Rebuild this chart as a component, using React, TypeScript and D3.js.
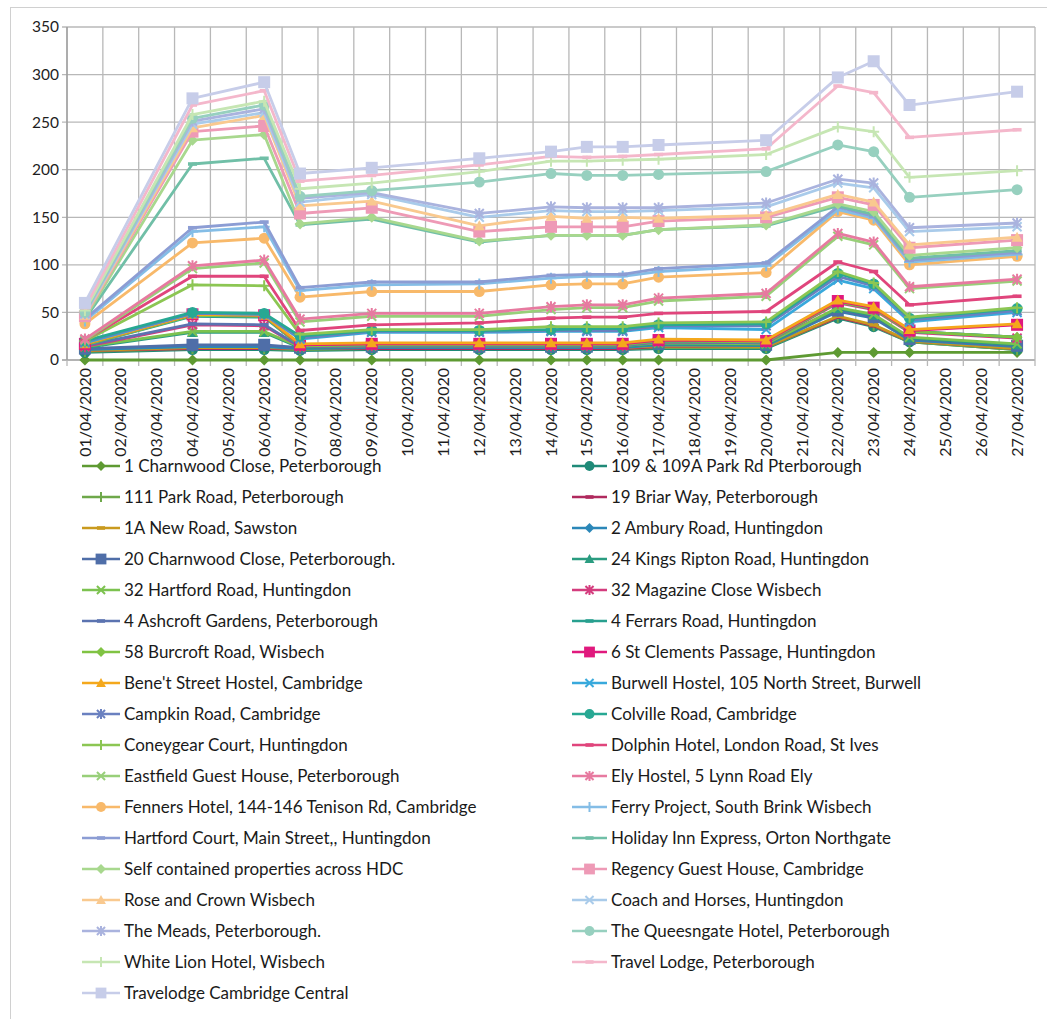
import React from "react";
import * as d3 from "d3";

const categories = [
  "01/04/2020","02/04/2020","03/04/2020","04/04/2020","05/04/2020","06/04/2020","07/04/2020",
  "08/04/2020","09/04/2020","10/04/2020","11/04/2020","12/04/2020","13/04/2020","14/04/2020",
  "15/04/2020","16/04/2020","17/04/2020","18/04/2020","19/04/2020","20/04/2020","21/04/2020",
  "22/04/2020","23/04/2020","24/04/2020","25/04/2020","26/04/2020","27/04/2020",
];
const pointDates = [
  "01/04/2020","04/04/2020","06/04/2020","07/04/2020","09/04/2020","12/04/2020","14/04/2020",
  "15/04/2020","16/04/2020","17/04/2020","20/04/2020","22/04/2020","23/04/2020","24/04/2020","27/04/2020",
];
const yTicks = [0, 50, 100, 150, 200, 250, 300, 350];

const charnwood1 = [0,0,0,0,0,0,0,0,0,0,0,8,8,8,8];
const parkRd109 = [8,11,11,10,11,11,11,11,11,12,12,36,27,11,3];
const parkRoad111 = [1,1,1,1,1,1,1,1,1,1,1,1,1,0,0];
const briarWay19 = [1,0,0,1,0,0,0,0,0,1,1,0,0,1,1];
const newRoad1A = [0,1,1,0,1,1,1,1,1,1,0,1,1,0,0];
const amburyRoad2 = [1,1,1,0,0,0,0,0,0,1,1,5,7,1,2];
const charnwood20 = [1,2,2,1,1,1,1,1,1,1,1,1,1,1,1];
const kingsRipton24 = [1,13,13,0,0,0,0,0,0,0,0,2,2,1,1];
const hartfordRoad32 = [1,1,1,1,1,1,1,1,1,1,1,1,1,1,1];
const magazineClose32 = [0,7,6,0,0,0,0,0,0,1,1,5,5,5,6];
const ashcroft4 = [1,1,1,0,0,0,0,0,0,0,0,1,1,1,1];
const ferrars4 = [1,8,8,1,1,1,1,1,1,1,1,0,0,0,0];
const burcroft58 = [0,1,1,0,0,0,0,0,0,0,0,0,0,0,0];
const stClements6 = [1,1,1,1,1,1,1,1,1,1,1,1,1,1,13];
const benetStreet = [0,0,0,1,1,1,1,1,1,1,1,1,1,1,1];
const burwellHostel = [1,1,1,5,11,11,12,12,12,12,11,21,19,8,12];
const campkinRoad = [1,0,0,1,1,1,1,1,1,2,4,4,3,2,2];
const colvilleRoad = [1,1,1,2,1,1,1,2,2,1,2,3,2,2,2];
const coneygear = [0,29,29,2,1,1,3,2,2,2,2,2,1,1,1];
const dolphinHotel = [1,9,10,4,5,7,9,10,10,10,11,10,12,13,12];
const eastfield = [0,8,14,9,9,7,9,10,10,13,16,27,28,17,16];
const elyHostel = [1,3,3,3,3,3,3,3,3,3,3,3,3,2,2];
const fenners = [16,24,23,23,23,23,23,22,22,22,22,23,23,23,24];
const ferryProject = [3,12,12,7,7,8,7,8,8,6,7,2,2,3,2];
const hartfordCourt = [2,4,5,3,3,2,3,2,2,3,3,3,2,2,2];
const holidayInn = [0,67,67,66,66,42,42,41,41,41,39,1,2,2,2];
const selfContained = [1,25,25,1,2,1,0,0,0,0,1,2,3,3,3];
const regency = [2,9,9,11,10,10,9,9,9,9,8,7,7,8,8];
const roseCrown = [1,4,11,8,7,6,11,9,10,3,2,3,3,3,3];
const coachHorses = [1,4,3,4,7,9,6,7,6,8,9,12,15,14,11];
const theMeads = [1,3,4,4,2,4,4,4,4,3,4,4,5,4,4];
const queensgate = [1,3,4,2,2,33,35,34,34,35,33,36,33,32,35];
const whiteLion = [2,4,4,8,8,11,13,15,16,16,18,19,21,21,20];
const travelLodge = [3,10,11,8,8,7,5,4,4,5,6,43,41,42,43];
const travelodgeCam = [5,7,9,8,8,7,5,11,10,10,9,9,33,34,40];

const seriesNames = [
  "1 Charnwood Close, Peterborough","109 & 109A Park Rd Pterborough","111 Park Road, Peterborough",
  "19 Briar Way, Peterborough","1A New Road, Sawston","2 Ambury Road, Huntingdon",
  "20 Charnwood Close, Peterborough.","24 Kings Ripton Road, Huntingdon","32 Hartford Road, Huntingdon",
  "32 Magazine Close Wisbech","4 Ashcroft Gardens, Peterborough","4 Ferrars Road, Huntingdon",
  "58 Burcroft Road, Wisbech","6 St Clements Passage, Huntingdon","Bene't Street Hostel, Cambridge",
  "Burwell Hostel, 105 North Street, Burwell","Campkin Road, Cambridge","Colville Road, Cambridge",
  "Coneygear Court, Huntingdon","Dolphin Hotel, London Road, St Ives","Eastfield Guest House, Peterborough",
  "Ely Hostel, 5 Lynn Road Ely","Fenners Hotel, 144-146 Tenison Rd, Cambridge","Ferry Project, South Brink Wisbech",
  "Hartford Court, Main Street,, Huntingdon","Holiday Inn Express, Orton Northgate","Self contained properties across HDC",
  "Regency Guest House, Cambridge","Rose and Crown Wisbech","Coach and Horses, Huntingdon",
  "The Meads, Peterborough.","The Queesngate Hotel, Peterborough","White Lion Hotel, Wisbech",
  "Travel Lodge, Peterborough","Travelodge Cambridge Central",
];
const seriesValues = [
  charnwood1, parkRd109, parkRoad111, briarWay19, newRoad1A, amburyRoad2, charnwood20, kingsRipton24,
  hartfordRoad32, magazineClose32, ashcroft4, ferrars4, burcroft58, stClements6, benetStreet, burwellHostel,
  campkinRoad, colvilleRoad, coneygear, dolphinHotel, eastfield, elyHostel, fenners, ferryProject,
  hartfordCourt, holidayInn, selfContained, regency, roseCrown, coachHorses, theMeads, queensgate,
  whiteLion, travelLodge, travelodgeCam,
];
const seriesColors = [
  "#5e9a32","#1f8a78","#6ea84a","#b02a5e","#c99a1e","#2b87b8","#4f6ea8","#2a9c80","#7cc24f",
  "#d43c7e","#5b73b0","#28a08f","#80c343","#e0197d","#f4a81c","#38a9dc","#6a80c0","#27a893",
  "#8cc653","#e0457c","#98cf79","#e77aa0","#f8b96a","#84bde6","#8c9dd4","#70bfa7","#a8d88e",
  "#ee9ab6","#f9c98f","#a9cbea","#aab3de","#97d0bf","#c6e6b3","#f4b7cb","#c7cde9",
];
const seriesMarkers = [
  "diamond","circle","plus","dash","dash","diamond","square","triangle","x",
  "star","dash","dash","diamond","square","triangle","x","star","circle",
  "plus","dash","x","star","circle","plus","dash","dash","diamond",
  "square","triangle","x","star","circle","plus","dash","square",
];

const FONT = "Lato, 'Open Sans', sans-serif";

function Marker({ type, x, y, color, s = 1 }: { type: string; x: number; y: number; color: string; s?: number }) {
  switch (type) {
    case "diamond":
      return <path d={`M${x},${y - 5.5 * s}L${x + 5.5 * s},${y}L${x},${y + 5.5 * s}L${x - 5.5 * s},${y}Z`} fill={color} />;
    case "circle":
      return <circle cx={x} cy={y} r={5.5 * s} fill={color} />;
    case "square":
      return <rect x={x - 6 * s} y={y - 6 * s} width={12 * s} height={12 * s} fill={color} />;
    case "triangle":
      return <path d={`M${x},${y - 5.5 * s}L${x + 5.5 * s},${y + 4.5 * s}L${x - 5.5 * s},${y + 4.5 * s}Z`} fill={color} />;
    case "x":
      return (
        <path
          d={`M${x - 4.5 * s},${y - 4.5 * s}L${x + 4.5 * s},${y + 4.5 * s}M${x - 4.5 * s},${y + 4.5 * s}L${x + 4.5 * s},${y - 4.5 * s}`}
          stroke={color}
          strokeWidth={2}
        />
      );
    case "star":
      return (
        <path
          d={`M${x - 4.5 * s},${y - 4.5 * s}L${x + 4.5 * s},${y + 4.5 * s}M${x - 4.5 * s},${y + 4.5 * s}L${x + 4.5 * s},${y - 4.5 * s}M${x},${y - 5.5 * s}L${x},${y + 5.5 * s}`}
          stroke={color}
          strokeWidth={2}
        />
      );
    case "plus":
      return (
        <path d={`M${x - 5.5 * s},${y}L${x + 5.5 * s},${y}M${x},${y - 5.5 * s}L${x},${y + 5.5 * s}`} stroke={color} strokeWidth={2} />
      );
    case "dash":
      return <rect x={x - 4.5 * s} y={y - 1.8} width={9 * s} height={3.6} fill={color} />;
    default:
      return null;
  }
}

export default function App() {
  const W = 1047;
  const H = 1019;
  const left = 67;
  const right = 1035;
  const top = 27;
  const bottom = 360;

  const x = d3.scaleBand<string>().domain(categories).range([left, right]).paddingInner(0).paddingOuter(0);
  const y = d3.scaleLinear().domain([0, 350]).range([bottom, top]);

  const keys = seriesNames.map((_, i) => `s${i}`);
  const rows = pointDates.map((d, j) => {
    const r: Record<string, any> = { date: d };
    seriesValues.forEach((vals, i) => (r[`s${i}`] = vals[j]));
    return r;
  });
  const stacked = d3.stack<any>().keys(keys)(rows);

  const cx = (d: string) => (x(d) as number) + x.bandwidth() / 2;
  const line = d3
    .line<any>()
    .x((d) => cx(d.data.date))
    .y((d) => y(d[1]));

  const bounds = d3.range(categories.length + 1).map((i) => left + i * x.bandwidth());

  const legendRows = Math.ceil(seriesNames.length / 2);
  const legendY = d3.scaleLinear().domain([0, legendRows - 1]).range([466, 993]);

  return (
    <svg width={W} height={H} style={{ position: "absolute", left: 0, top: 0, background: "#fff" }} fontFamily={FONT}>
      <rect x={10.5} y={7.5} width={1100} height={1100} fill="#fff" stroke="#d0d0d0" strokeWidth={1} />
      {yTicks.map((t) => (
        <line key={`h${t}`} x1={left - 5} x2={right} y1={y(t)} y2={y(t)} stroke={t === 0 ? "#9a9a9a" : "#b8b8b8"} strokeWidth={1.3} />
      ))}
      {bounds.map((bx, i) => (
        <line key={`v${i}`} x1={bx} x2={bx} y1={top} y2={bottom + 6} stroke="#b8b8b8" strokeWidth={1.3} />
      ))}
      <line x1={left} x2={left} y1={top} y2={bottom} stroke="#9a9a9a" strokeWidth={1.3} />
      {yTicks.map((t) => (
        <text key={`yl${t}`} x={left - 8} y={y(t)} dy="0.35em" textAnchor="end" fontSize={15.5} fill="#1e1e1e">
          {t}
        </text>
      ))}
      {categories.map((c) => (
        <text
          key={`xl${c}`}
          transform={`translate(${cx(c)},${bottom + 8}) rotate(-90)`}
          dy="0.35em"
          textAnchor="end"
          fontSize={16}
          fill="#1e1e1e"
        >
          {c}
        </text>
      ))}
      {stacked.map((s, i) => (
        <g key={`s${i}`}>
          <path d={line(s as any) || ""} fill="none" stroke={seriesColors[i]} strokeWidth={2.8} strokeLinejoin="round" />
          {s.map((d: any, j: number) => (
            <Marker key={j} type={seriesMarkers[i]} x={cx(d.data.date)} y={y(d[1])} color={seriesColors[i]} />
          ))}
        </g>
      ))}
      {seriesNames.map((name, i) => {
        const col = i % 2;
        const row = Math.floor(i / 2);
        const ly = legendY(row);
        const x0 = col === 0 ? 82 : 572;
        const x1 = col === 0 ? 120 : 607;
        return (
          <g key={`lg${i}`}>
            <line x1={x0} x2={x1} y1={ly} y2={ly} stroke={seriesColors[i]} strokeWidth={2.6} />
            <Marker type={seriesMarkers[i]} x={(x0 + x1) / 2} y={ly} color={seriesColors[i]} s={0.9} />
            <text x={x1 + 4} y={ly} dy="0.35em" fontSize={17} fill="#1a1a1a">
              {name}
            </text>
          </g>
        );
      })}
    </svg>
  );
}
